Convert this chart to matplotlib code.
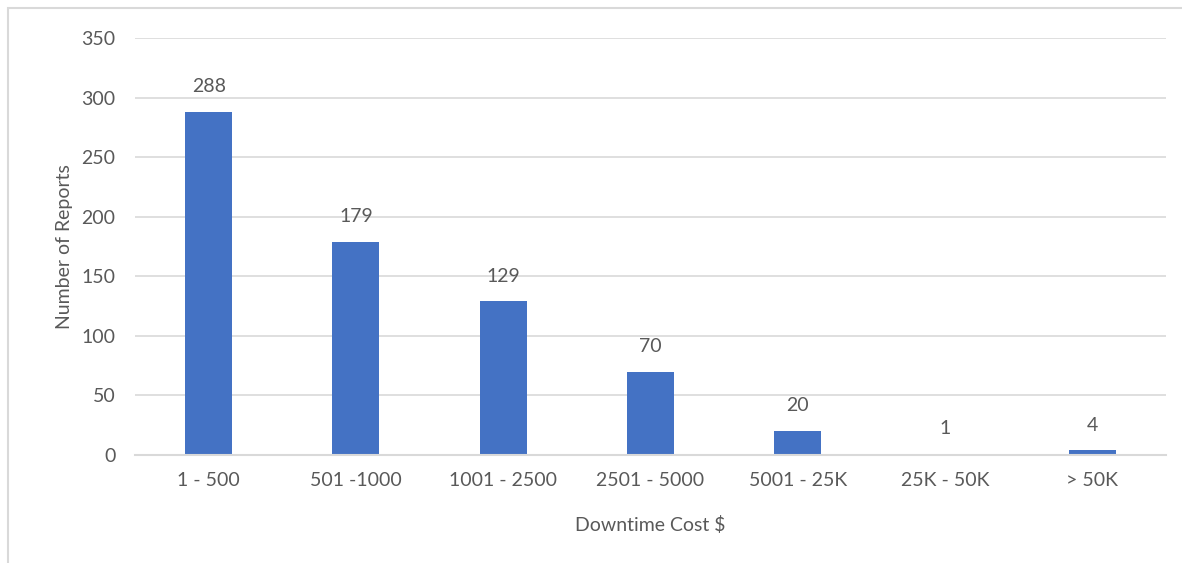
import matplotlib.pyplot as plt
from matplotlib.patches import Rectangle

categories = ['1 - 500', '501 -1000', '1001 - 2500', '2501 - 5000',
              '5001 - 25K', '25K - 50K', '> 50K']
reports = [288, 179, 129, 70, 20, 1, 4]

plt.rcParams['font.family'] = ['Lato', 'DejaVu Sans']
text_color = '#595959'
grid_color = '#d9d9d9'
bar_color = '#4472c4'
fs = 14

fig = plt.figure(figsize=(11.82, 5.63), dpi=100)
ax = fig.add_axes([135 / 1182, 1 - 455 / 563, 1031 / 1182, 417 / 563])

# outer chart border, only the top and left edges are visible
fig.patches.append(Rectangle((8 / 1182, -0.1), 1.2, (563 - 8) / 563 + 0.1,
                             transform=fig.transFigure, fill=False,
                             edgecolor=grid_color, linewidth=1.5))

x = range(len(categories))
bars = ax.bar(x, reports, width=0.32, color=bar_color, zorder=2)
for xi, v in zip(x, reports):
    ax.text(xi, v + 14, str(v), ha='center', va='bottom',
            fontsize=fs, color=text_color)

ax.set_xlim(-0.5, len(categories) - 0.5)
ax.set_ylim(0, 350)
ax.set_yticks(range(0, 351, 50))
ax.set_xticks(list(x))
ax.set_xticklabels(categories)
ax.grid(axis='y', color=grid_color, linewidth=1.2, zorder=0)
ax.tick_params(axis='both', length=0, labelsize=fs, colors=text_color)
ax.tick_params(axis='y', pad=14)
ax.tick_params(axis='x', pad=12)
for side in ['top', 'right', 'left']:
    ax.spines[side].set_visible(False)
ax.spines['bottom'].set_color(grid_color)
ax.spines['bottom'].set_linewidth(1.5)
ax.spines['bottom'].set_zorder(3)

ax.set_ylabel('Number of Reports', fontsize=fs, color=text_color, labelpad=6)
ax.set_xlabel('Downtime Cost $', fontsize=fs, color=text_color, labelpad=20)

fig.savefig('out.png', dpi=100)
